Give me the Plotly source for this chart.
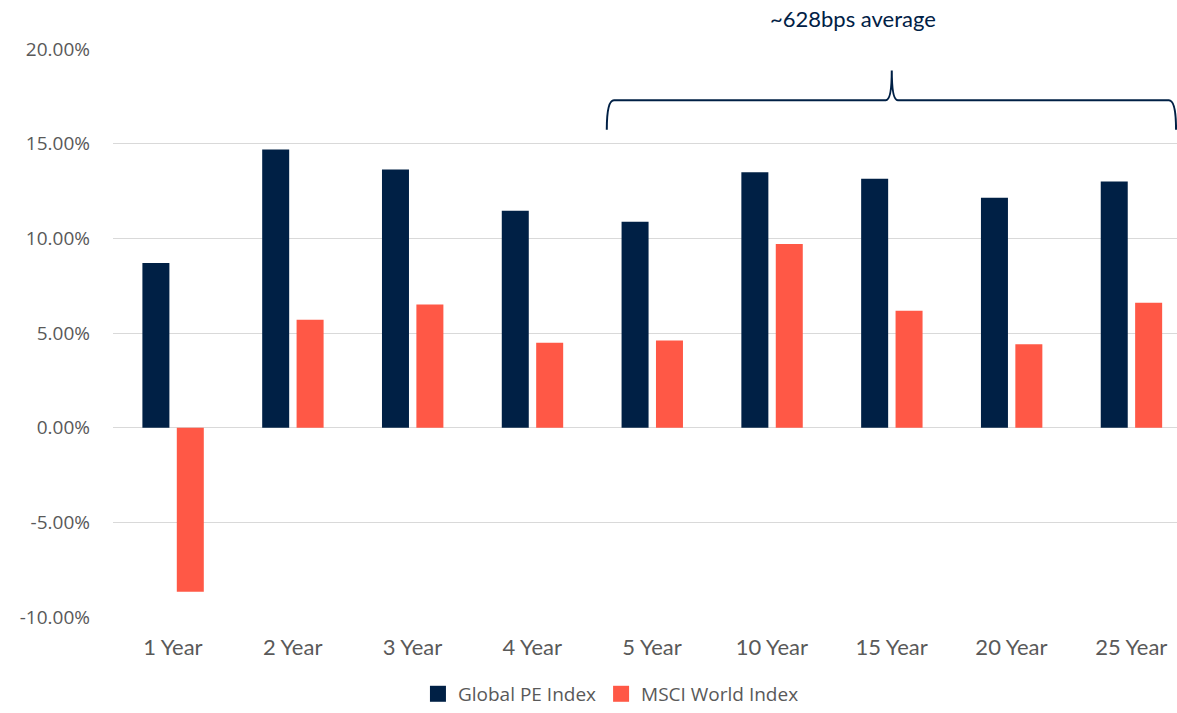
import plotly.graph_objects as go

categories = ["1 Year", "2 Year", "3 Year", "4 Year", "5 Year", "10 Year", "15 Year", "20 Year", "25 Year"]
global_pe = [8.70, 14.69, 13.63, 11.46, 10.88, 13.49, 13.15, 12.15, 13.00]
msci_world = [-8.66, 5.70, 6.50, 4.49, 4.60, 9.70, 6.18, 4.40, 6.60]
tick_vals = [-10, -5, 0, 5, 10, 15, 20]
tick_text = ["-10.00%", "-5.00%", "0.00%", "5.00%", "10.00%", "15.00%", "20.00%"]

NAVY = "#002045"
ORANGE = "#FF5846"
GRID = "#D9D9D9"
TICK = "#595959"

fig = go.Figure()
fig.add_trace(go.Bar(x=categories, y=global_pe, name="Global PE Index",
                     marker=dict(color=NAVY, line=dict(width=0)),
                     width=0.2254, offset=-0.2546, showlegend=False))
fig.add_trace(go.Bar(x=categories, y=msci_world, name="MSCI World Index",
                     marker=dict(color=ORANGE, line=dict(width=0)),
                     width=0.2254, offset=0.0326, showlegend=False))
# legend entries with larger square keys
for nm, col in (("Global PE Index", NAVY), ("MSCI World Index", ORANGE)):
    fig.add_trace(go.Scatter(x=[None], y=[None], mode="markers", name=nm,
                             marker=dict(symbol="square", size=17, color=col),
                             showlegend=True))

# curly brace over 5..25 year
xl, xr, xm = 3.622, 8.374, 6.001
yb, yh, yt = 15.74, 17.29, 18.86
brace = (f"M {xl},{yb} Q {xl},{yh} {xl+0.06},{yh} "
         f"L {xm-0.05},{yh} Q {xm},{yh} {xm},{yt} "
         f"Q {xm},{yh} {xm+0.05},{yh} "
         f"L {xr-0.06},{yh} Q {xr},{yh} {xr},{yb}")
fig.add_shape(type="path", path=brace, xref="x", yref="y",
              line=dict(color=NAVY, width=2))

fig.add_annotation(text="~628bps average", xref="x", x=5.68, yref="paper", y=1.0,
                   yanchor="bottom", yshift=15, showarrow=False,
                   font=dict(family="Lato", size=22, color=NAVY))

fig.update_layout(
    width=1177, height=713,
    margin=dict(l=113, r=0, t=49, b=96, autoexpand=False),
    paper_bgcolor="white", plot_bgcolor="white",
    barmode="overlay",
    showlegend=True,
    legend=dict(orientation="h", x=0.468, xanchor="center", y=-0.102, yanchor="top",
                font=dict(family="Open Sans", size=19, color=TICK),
                traceorder="normal", itemwidth=30, tracegroupgap=0),
    xaxis=dict(range=[-0.5, 8.382], showgrid=False, zeroline=False, showline=False,
               automargin=False, ticks="", ticklabelstandoff=15,
               tickfont=dict(family="Lato", size=22, color=TICK)),
    yaxis=dict(range=[-10, 20], tickvals=tick_vals, ticktext=tick_text,
               showgrid=True, gridcolor=GRID, gridwidth=1, automargin=False,
               zeroline=True, zerolinecolor=GRID, zerolinewidth=1,
               showline=False, ticks="", ticklen=0, ticklabelstandoff=22,
               tickfont=dict(family="Open Sans", size=19, color=TICK)),
)

fig.write_html("out.html")
